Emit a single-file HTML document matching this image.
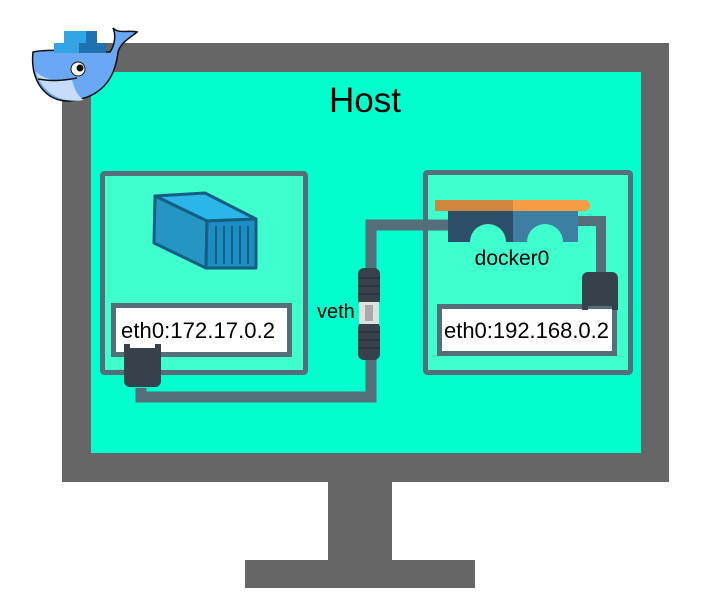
<!DOCTYPE html>
<html><head><meta charset="utf-8"><style>
body{margin:0;background:#fff;width:720px;height:600px;overflow:hidden;font-family:"Liberation Sans",sans-serif}
</style></head><body>
<svg width="720" height="600" viewBox="0 0 720 600" xmlns="http://www.w3.org/2000/svg">
<rect x="62" y="43" width="607" height="439" fill="#666666"/>
<rect x="91" y="72" width="550" height="381" fill="#00ffcc"/>
<rect x="328" y="482" width="64" height="80" fill="#666666"/>
<rect x="245" y="560" width="230" height="28" fill="#666666"/>
<text x="365" y="112" font-size="35" text-anchor="middle" fill="#000">Host</text>
<rect x="102.5" y="173.5" width="203" height="199" fill="#40ffcf" stroke="#546e7a" stroke-width="5" rx="2"/>
<g stroke="#155e82" stroke-width="3" stroke-linejoin="round">
<polygon points="155,196 205,193 256,219 207,221" fill="#2ab6e8"/>
<polygon points="155,196 207,221 206,268 154,243" fill="#2596c4"/>
<polygon points="207,221 256,219 256,268 206,268" fill="#1a8ec2"/>
</g>
<g stroke="#155e82" stroke-width="2"><line x1="216" y1="226" x2="216" y2="264"/><line x1="224" y1="226" x2="224" y2="264"/><line x1="232" y1="226" x2="232" y2="264"/><line x1="240" y1="226" x2="240" y2="264"/><line x1="248" y1="226" x2="248" y2="264"/></g>
<rect x="113.5" y="305.5" width="176" height="49" fill="#fff" stroke="#546e7a" stroke-width="5"/>
<text x="121" y="338" font-size="22" textLength="154" fill="#000">eth0:172.17.0.2</text>
<rect x="425.5" y="172.5" width="205" height="200" fill="#40ffcf" stroke="#546e7a" stroke-width="5" rx="2"/>
<rect x="439.5" y="306.5" width="175" height="47" fill="#fff" stroke="#546e7a" stroke-width="5"/>
<text x="444" y="338" font-size="22" textLength="165" fill="#000">eth0:192.168.0.2</text>
<path d="M141,388 V397 H371 V225 H450" fill="none" stroke="#546e7a" stroke-width="11"/>
<path d="M576,221 H601 V272" fill="none" stroke="#546e7a" stroke-width="10"/>
<path d="M124,344 h6 v4 h25 v-4 h6 v37 a6,6 0 0 1 -6,6 h-25 a6,6 0 0 1 -6,-6z" fill="#36414b"/>
<path d="M582,278 a6,6 0 0 1 6,-6 h24 a6,6 0 0 1 6,6 v32 h-6 v-4 h-24 v4 h-6z" fill="#36414b"/>
<rect x="358" y="268" width="22" height="38" rx="6" fill="#36414b"/>
<rect x="358" y="322" width="22" height="38" rx="6" fill="#36414b"/>
<rect x="359" y="302" width="20" height="22" fill="#e0e0e0"/>
<rect x="365" y="305" width="8" height="16" fill="#aaa"/>
<g stroke="#2a333b" stroke-width="1.5"><line x1="358" y1="278" x2="380" y2="278"/><line x1="358" y1="286" x2="380" y2="286"/><line x1="358" y1="294" x2="380" y2="294"/><line x1="358" y1="332" x2="380" y2="332"/><line x1="358" y1="340" x2="380" y2="340"/><line x1="358" y1="348" x2="380" y2="348"/></g>
<text x="317" y="318" font-size="20" fill="#000">veth</text>
<rect x="435" y="200" width="155" height="11" rx="5.5" fill="#f59c45"/>
<rect x="435" y="200" width="78" height="11" fill="#cf873f"/>
<path d="M448,211 H513 V242 H506 a18,18 0 0 0 -36,0 H448z" fill="#2c4e68"/>
<path d="M513,211 H578 V242 H563 a18,18 0 0 0 -36,0 H513z" fill="#3c7fa3"/>
<text x="512" y="265" font-size="21" text-anchor="middle" fill="#000">docker0</text>
<g stroke="#111" stroke-width="1.5">
<path d="M33,52 C50,48 100,52 110,52 C115,45 116,35 113,28 C118,34 130,30 137,32 C130,38 121,42 118,52 C115,80 100,98 70,101 C45,102 30,80 33,52z" fill="#6aa8f5"/>
</g>
<path d="M36,72 C45,80 60,82 72,80 C75,92 80,98 84,100 C60,104 42,92 36,72z" fill="#c6dcfa"/>
<path d="M38,79 C55,82 65,80 77,78" stroke="#111" stroke-width="1.5" fill="none"/>
<circle cx="78" cy="69" r="7" fill="#fff" stroke="#111"/><circle cx="80" cy="68" r="3.5" fill="#111"/>
<rect x="64" y="31" width="33" height="12" fill="#32a6e5"/>
<rect x="54" y="43" width="25" height="10" fill="#32a6e5"/>
<rect x="79" y="43" width="27" height="10" fill="#1f73b2"/>
<rect x="86" y="31" width="11" height="12" fill="#1f73b2"/>
</svg>
</body></html>
